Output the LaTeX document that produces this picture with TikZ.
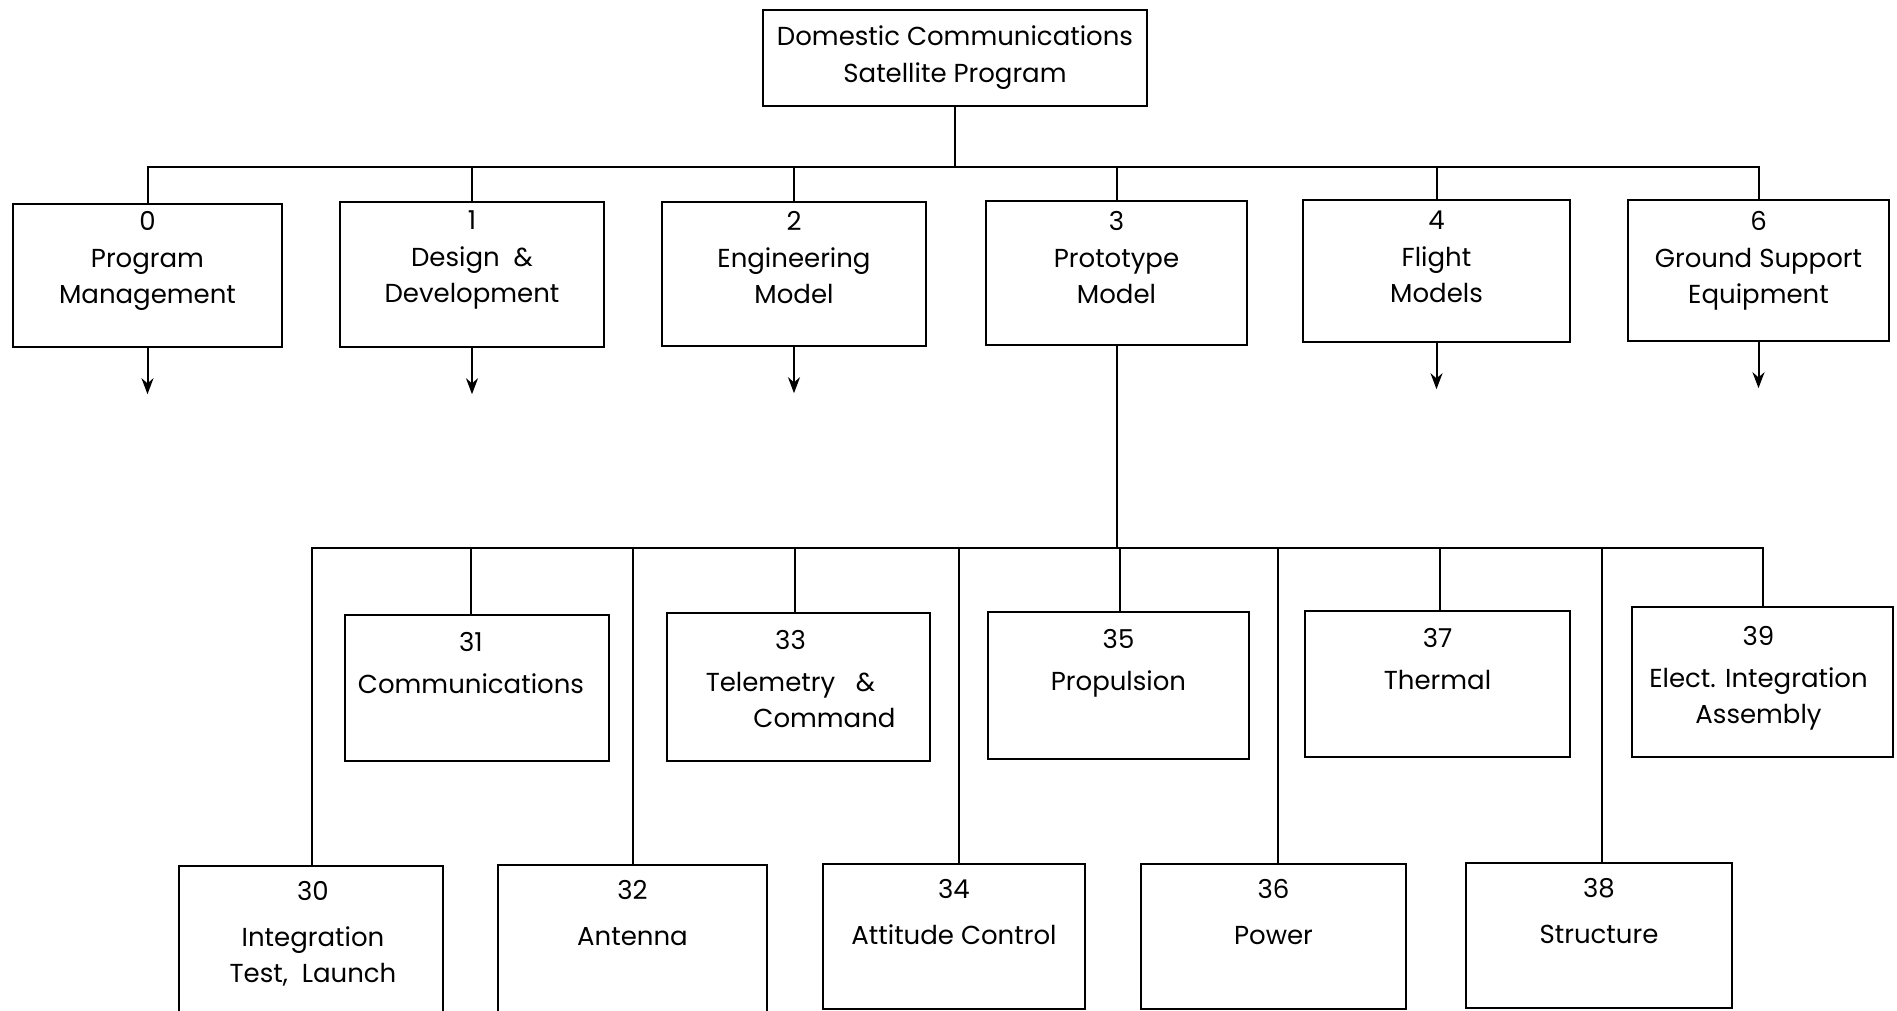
\documentclass[tikz,border=0pt]{standalone}
\usepackage{fontspec}
\setmainfont{Poppins}
\usetikzlibrary{arrows.meta,calc,fit}

\begin{document}
\begin{tikzpicture}[x=0.5pt,y=-0.5pt,
  box/.style={draw, line width=1.2pt, rectangle, inner sep=0pt},
  lbl/.style={anchor=north, align=center, inner sep=0pt,
              font=\fontsize{13}{18}\selectfont},
  link/.style={line width=1pt},
  stub/.style={line width=1pt, -{Stealth[length=8pt,width=6pt]}}]

\useasboundingbox (0,0) rectangle (1897,1011);
\clip (0,0) rectangle (1897,1011);

% programme root
\node[box, fit={(763,10) (1147,106)}] (top) {};
\node[align=center, inner sep=0pt, font=\fontsize{13}{18.5}\selectfont] (topt) at (top.center) {Domestic Communications\\Satellite Program};

% first level
\node[box, fit={(13,204) (282,347)}]   (n0) {};
\node[box, fit={(340,202) (604,347)}]  (n1) {};
\node[box, fit={(662,202) (926,346)}]  (n2) {};
\node[box, fit={(986,201) (1247,345)}] (n3) {};
\node[box, fit={(1303,200) (1570,342)}] (n4) {};
\node[box, fit={(1628,200) (1889,341)}] (n6) {};

\node[lbl] (n0t) at ($(n0.north)+(0,8)$) {0\\[0.5pt]Program\\Management};
\node[lbl] (n1t) at ($(n1.north)+(0,10)$) {1\\[0.5pt]Design\ \ \&\\Development};
\node[lbl] (n2t) at ($(n2.north)+(0,10)$) {2\\[0.5pt]Engineering\\Model};
\node[lbl] (n3t) at ($(n3.north)+(0,11)$) {3\\[0.5pt]Prototype\\Model};
\node[lbl] (n4t) at ($(n4.north)+(0,12)$) {4\\[0.5pt]Flight\\Models};
\node[lbl] (n6t) at ($(n6.north)+(0,12)$) {6\\[0.5pt]Ground Support\\Equipment};

% second level, upper row
\node[box, fit={(345,615) (609,761)}]   (n31) {};
\node[box, fit={(667,613) (930,761)}]   (n33) {};
\node[box, fit={(988,612) (1249,759)}]  (n35) {};
\node[box, fit={(1305,611) (1570,757)}] (n37) {};
\node[box, fit={(1632,607) (1893,757)}] (n39) {};

\node[lbl] (n31t) at ($(n31.north)+(-6,18)$) {31\\[3pt]Communications};
\node[lbl] (n33t) at ($(n33.north)+(-8,18)$) {33\\[3pt]Telemetry\ \ \ \&\\\hspace*{34pt}Command};
\node[lbl] (n35t) at ($(n35.north)+(0,18)$) {35\\[3pt]Propulsion};
\node[lbl] (n37t) at ($(n37.north)+(0,18)$) {37\\[3pt]Thermal};
\node[lbl] (n39t) at ($(n39.north)+(-4,20)$) {39\\[3pt]Elect. Integration\\Assembly};

% second level, lower row
\node[box, fit={(179,866) (443,1020)}]  (n30) {};
\node[box, fit={(498,865) (767,1020)}]  (n32) {};
\node[box, fit={(823,864) (1085,1009)}] (n34) {};
\node[box, fit={(1141,864) (1406,1009)}] (n36) {};
\node[box, fit={(1466,863) (1732,1008)}] (n38) {};

\node[lbl] (n30t) at ($(n30.north)+(2,16)$) {30\\[5pt]Integration\\Test,\ \ Launch};
\node[lbl] (n32t) at ($(n32.north)+(0,16)$) {32\\[5pt]Antenna};
\node[lbl] (n34t) at ($(n34.north)+(0,16)$) {34\\[5pt]Attitude Control};
\node[lbl] (n36t) at ($(n36.north)+(0,16)$) {36\\[5pt]Power};
\node[lbl] (n38t) at ($(n38.north)+(0,16)$) {38\\[5pt]Structure};

% first-level tree
\path (top.south) ++(0,60) coordinate (hub1);
\draw[link] (top.south) -- (hub1);
\foreach \n in {n0,n1,n2,n3,n4,n6}
  \draw[link] (\n.north) |- (hub1);

% continuation arrows
\foreach \n in {n0,n1,n2,n4,n6}{
  \path (\n.south) ++(0,46) coordinate (\n-end);
  \draw[stub] (\n.south) -- (\n-end);
}

% second-level tree under the prototype model
\path (n3.south) ++(0,202) coordinate (hub2);
\draw[link] (n3.south) -- (hub2);
\foreach \n/\dx in {n30/1,n31/-6,n32/0,n33/-4,n34/5,n35/1,n36/4,n37/2,n38/3,n39/0}
  \draw[link] ($(\n.north)+(\dx,0)$) |- (hub2);

\end{tikzpicture}
\end{document}
